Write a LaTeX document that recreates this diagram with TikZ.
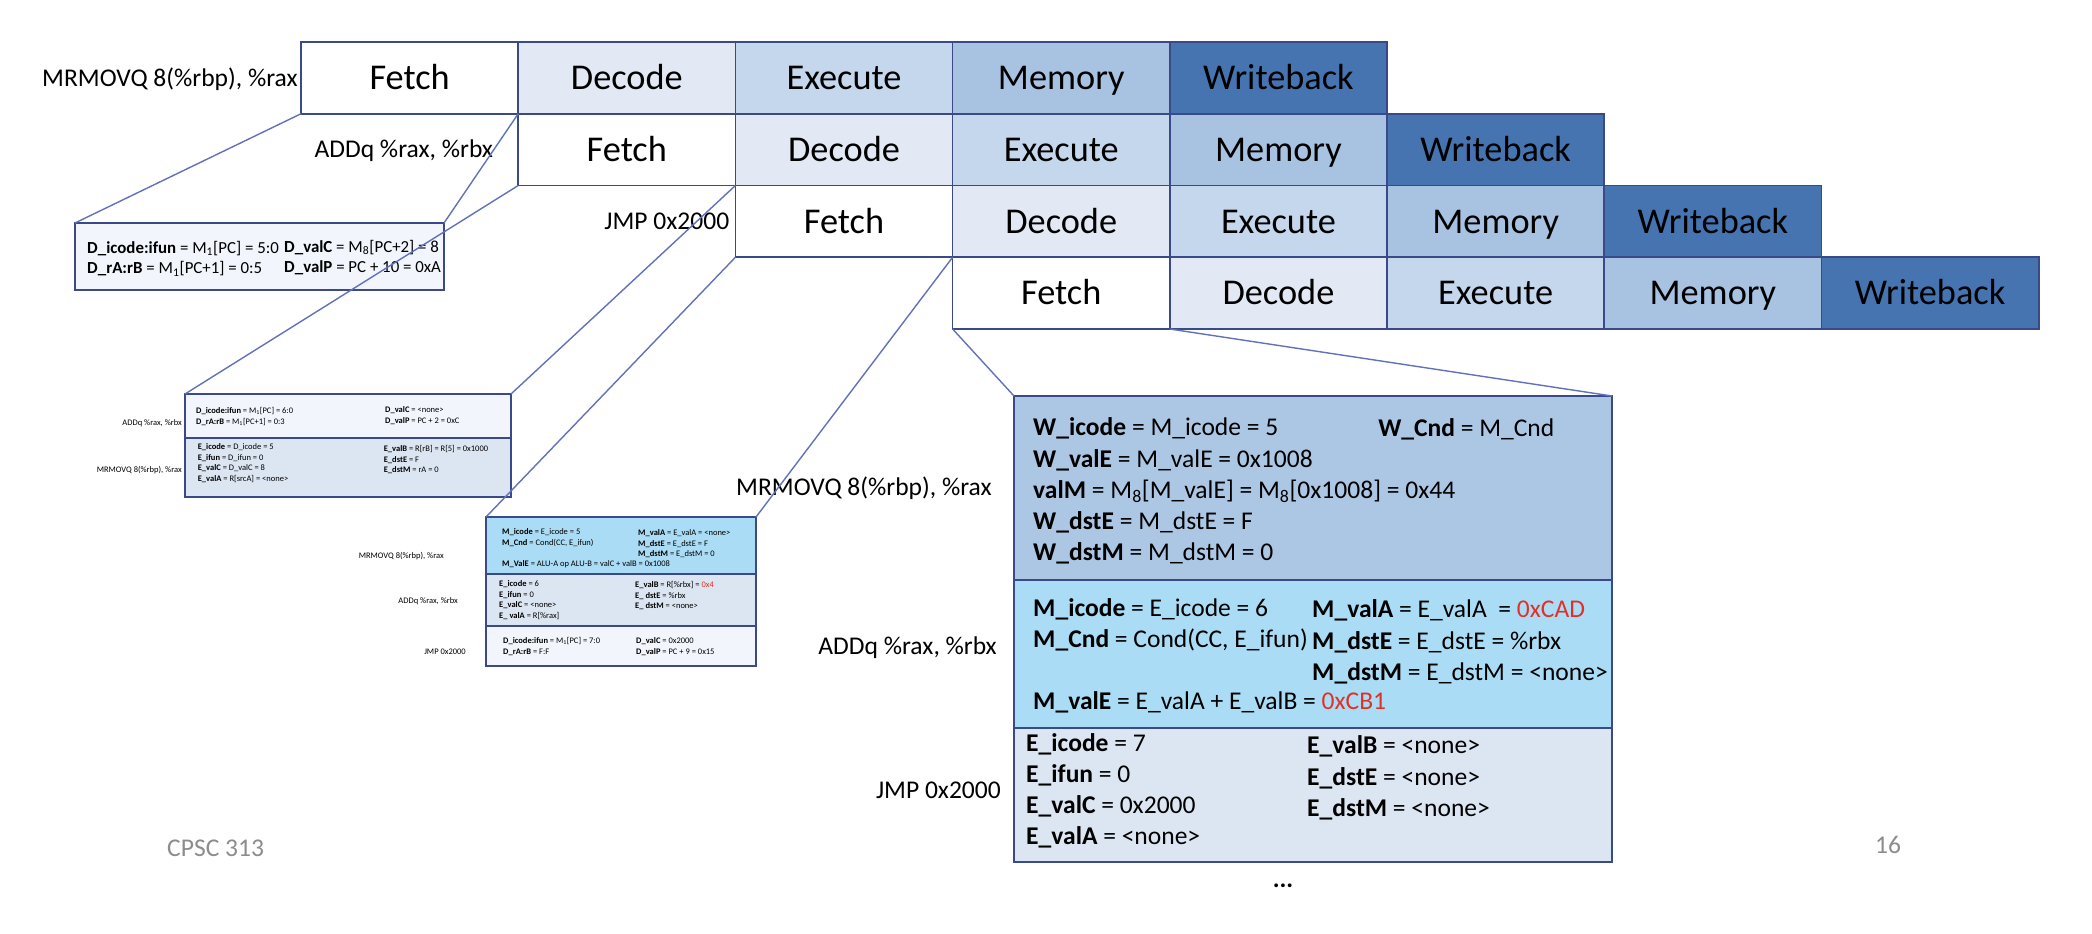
\documentclass[tikz,border=0pt]{standalone}
\usepackage{fontspec}
\setmainfont{Carlito}
\usepackage{xcolor}
\usetikzlibrary{positioning}

\definecolor{edge}{RGB}{58,74,136}
\definecolor{wire}{RGB}{98,114,186}
\definecolor{decode}{RGB}{226,233,245}
\definecolor{execute}{RGB}{197,215,236}
\definecolor{memory}{RGB}{168,195,225}
\definecolor{writeback}{RGB}{69,116,176}
\definecolor{wsec}{RGB}{172,199,228}
\definecolor{msec}{RGB}{170,221,245}
\definecolor{esec}{RGB}{220,230,242}
\definecolor{dsec}{RGB}{242,246,252}
\definecolor{hot}{RGB}{226,48,40}
\definecolor{slide}{RGB}{140,140,140}

\newcommand\stgfont{\fontsize{31}{37}\selectfont}
\newcommand\regfont{\fontsize{21.8}{26.6}\selectfont}
\newcommand\midfont{\fontsize{14.4}{17.9}\selectfont}
\newcommand\smlfont{\fontsize{7.25}{9.1}\selectfont}

\tikzset{
  stage/.style={draw=edge, line width=1.4pt, minimum width=6.516cm, minimum height=2.1525cm,
    inner sep=0pt, outer sep=0pt, font=\stgfont, text height=24.8pt, text depth=4.84pt},
  sect/.style={draw=edge, line width=2pt, inner sep=0pt, outer sep=0pt, anchor=north west},
  txt/.style={anchor=base west, align=left, inner sep=0pt},
  lab/.style={anchor=east, inner sep=0pt, font=\regfont, text height=17.44pt, text depth=3.4pt},
  tinylab/.style={anchor=east, inner sep=0pt, font=\smlfont, text height=5.8pt, text depth=1.13pt},
  zoomline/.style={draw=wire, line width=1.2pt},
}

\begin{document}
\begin{tikzpicture}[x=0.03cm, y=-0.03cm]
  \useasboundingbox (0,0) rectangle (2092,934);
  % pipeline diagram
  \node[stage, anchor=north west] (f1) at (301,42) {Fetch};
  \node[stage, fill=decode, right=0pt of f1] (d1) {Decode};
  \node[stage, fill=execute, right=0pt of d1] (e1) {Execute};
  \node[stage, fill=memory, right=0pt of e1] (m1) {Memory};
  \node[stage, fill=writeback, right=0pt of m1] (w1) {Writeback};
  \node[stage, below=0pt of d1] (f2) {Fetch};
  \node[stage, fill=decode, right=0pt of f2] (d2) {Decode};
  \node[stage, fill=execute, right=0pt of d2] (e2) {Execute};
  \node[stage, fill=memory, right=0pt of e2] (m2) {Memory};
  \node[stage, fill=writeback, right=0pt of m2] (w2) {Writeback};
  \node[stage, below=0pt of d2] (f3) {Fetch};
  \node[stage, fill=decode, right=0pt of f3] (d3) {Decode};
  \node[stage, fill=execute, right=0pt of d3] (e3) {Execute};
  \node[stage, fill=memory, right=0pt of e3] (m3) {Memory};
  \node[stage, fill=writeback, right=0pt of m3] (w3) {Writeback};
  \node[stage, below=0pt of d3] (f4) {Fetch};
  \node[stage, fill=decode, right=0pt of f4] (d4) {Decode};
  \node[stage, fill=execute, right=0pt of d4] (e4) {Execute};
  \node[stage, fill=memory, right=0pt of e4] (m4) {Memory};
  \node[stage, fill=writeback, right=0pt of m4] (w4) {Writeback};
  \node[lab, left=0.09cm of f1] (l1) {MRMOVQ 8(\%rbp), \%rax};
  \node[lab, left=0.75cm of f2] (l2) {ADDq \%rax, \%rbx};
  \node[lab, left=0.18cm of f3] (l3) {JMP 0x2000};

  % cycle 2
  \node[sect, fill=dsec, line width=2.4pt, minimum width=11.07cm, minimum height=2.01cm] (b1) at (75,223) {};
  \node[txt, font=\midfont] (b1a) at (87,274)
    {\textbf{D\_icode:ifun} = M\textsubscript{1}[PC] = 5:0\\ \textbf{D\_rA:rB} = M\textsubscript{1}[PC+1] = 0:5};
  \node[txt, font=\midfont] (b1b) at (284,273)
    {\textbf{D\_valC} = M\textsubscript{8}[PC+2] = 8\\ \textbf{D\_valP} = PC + 10 = 0xA};

  % cycle 3
  \node[sect, fill=dsec, minimum width=9.78cm, minimum height=1.32cm] (b2d) at (185,394) {};
  \node[sect, fill=esec, minimum width=9.78cm, minimum height=1.77cm, below=0pt of b2d] (b2e) {};
  \node[txt, font=\smlfont] (b2da) at (196,424.2)
    {\textbf{D\_icode:ifun} = M\textsubscript{1}[PC] = 6:0\\ \textbf{D\_rA:rB} = M\textsubscript{1}[PC+1] = 0:3};
  \node[txt, font=\smlfont] (b2db) at (385,423.2)
    {\textbf{D\_valC} = <none>\\ \textbf{D\_valP} = PC + 2 = 0xC};
  \node[txt, font=\smlfont] (b2ea) at (197.6,481.5)
    {\textbf{E\_icode} = D\_icode = 5\\ \textbf{E\_ifun} = D\_ifun = 0\\ \textbf{E\_valC} = D\_valC = 8\\ \textbf{E\_valA} = R[srcA] = <none>};
  \node[txt, font=\smlfont] (b2eb) at (383.6,472.8)
    {\textbf{E\_valB} = R[rB] = R[5] = 0x1000\\ \textbf{E\_dstE} = F\\ \textbf{E\_dstM} = rA = 0};
  \node[tinylab] (b2l1) at (182,423) {ADDq \%rax, \%rbx};
  \node[tinylab] (b2l2) at (182,470) {MRMOVQ 8(\%rbp), \%rax};

  % cycle 4
  \node[sect, fill=msec, minimum width=8.1cm, minimum height=1.71cm] (b3m) at (486,517) {};
  \node[sect, fill=esec, minimum width=8.1cm, minimum height=1.56cm, below=0pt of b3m] (b3e) {};
  \node[sect, fill=dsec, minimum width=8.1cm, minimum height=1.2cm, below=0pt of b3e] (b3d) {};
  \node[txt, font=\smlfont] (b3ma) at (502,545.2)
    {\textbf{M\_icode} = E\_icode = 5\\ \textbf{M\_Cnd} = Cond(CC, E\_ifun)};
  \node[txt, font=\smlfont] (b3mc) at (502,566.5)
    {\textbf{M\_ValE} = ALU-A op ALU-B = valC + valB = 0x1008};
  \node[txt, font=\smlfont] (b3mb) at (638,556.8)
    {\textbf{M\_valA} = E\_valA = <none>\\ \textbf{M\_dstE} = E\_dstE = F\\ \textbf{M\_dstM} = E\_dstM = 0};
  \node[txt, font=\smlfont] (b3ea) at (499,618.5)
    {\textbf{E\_icode} = 6\\ \textbf{E\_ifun} = 0\\ \textbf{E\_valC} = <none>\\ \textbf{E\_ valA} = R[\%rax]};
  \node[txt, font=\smlfont] (b3eb) at (635,608.8)
    {\textbf{E\_valB} = R[\%rbx] = \textcolor{hot}{0x4}\\ \textbf{E\_ dstE} = \%rbx\\ \textbf{E\_ dstM} = <none>};
  \node[txt, font=\smlfont] (b3da) at (503,654.2)
    {\textbf{D\_icode:ifun} = M\textsubscript{1}[PC] = 7:0\\ \textbf{D\_rA:rB} = F:F};
  \node[txt, font=\smlfont] (b3db) at (636,654.2)
    {\textbf{D\_valC} = 0x2000\\ \textbf{D\_valP} = PC + 9 = 0x15};
  \node[tinylab] (b3l1) at (444,556) {MRMOVQ 8(\%rbp), \%rax};
  \node[tinylab] (b3l2) at (458,601) {ADDq \%rax, \%rbx};
  \node[tinylab] (b3l3) at (466,652) {JMP 0x2000};

  % cycle 5
  \node[sect, fill=wsec, line width=2.4pt, minimum width=17.94cm, minimum height=5.52cm] (b4w) at (1014,396) {};
  \node[sect, fill=msec, line width=2.4pt, minimum width=17.94cm, minimum height=4.44cm, below=0pt of b4w] (b4m) {};
  \node[sect, fill=esec, line width=2.4pt, minimum width=17.94cm, minimum height=4.02cm, below=0pt of b4m] (b4e) {};
  \node[txt, font=\regfont] (b4wa) at (1033,560.6)
    {\textbf{W\_icode} = M\_icode = 5\\ \textbf{W\_valE} = M\_valE = 0x1008\\
     \textbf{valM} = M\textsubscript{8}[M\_valE] = M\textsubscript{8}[0x1008] = 0x44\\
     \textbf{W\_dstE} = M\_dstE = F\\ \textbf{W\_dstM} = M\_dstM = 0};
  \node[txt, font=\regfont] (b4wb) at (1378,436) {\textbf{W\_Cnd} = M\_Cnd};
  \node[txt, font=\regfont] (b4ma) at (1033,647.2)
    {\textbf{M\_icode} = E\_icode = 6\\ \textbf{M\_Cnd} = Cond(CC, E\_ifun)};
  \node[txt, font=\regfont] (b4mc) at (1033,709)
    {\textbf{M\_valE} = E\_valA + E\_valB = \textcolor{hot}{0xCB1}};
  \node[txt, font=\regfont] (b4mb) at (1312,680.3)
    {\textbf{M\_valA} = E\_valA~ = \textcolor{hot}{0xCAD}\\ \textbf{M\_dstE} = E\_dstE = \%rbx\\ \textbf{M\_dstM} = E\_dstM = <none>};
  \node[txt, font=\regfont] (b4ea) at (1026,844.5)
    {\textbf{E\_icode} = 7\\ \textbf{E\_ifun} = 0\\ \textbf{E\_valC} = 0x2000\\ \textbf{E\_valA} = <none>};
  \node[txt, font=\regfont] (b4eb) at (1307,816.3)
    {\textbf{E\_valB} = <none>\\ \textbf{E\_dstE} = <none>\\ \textbf{E\_dstM} = <none>};
  \node[lab] (b4l1) at (992,487) {MRMOVQ 8(\%rbp), \%rax};
  \node[lab] (b4l2) at (997,646) {ADDq \%rax, \%rbx};
  \node[lab] (b4l3) at (1001,790) {JMP 0x2000};
  \node[font=\regfont\bfseries] (more) at (1283,886) {...};

  % slide footer
  \node[lab, anchor=west, text=slide] (course) at (167,848) {CPSC 313};
  \node[lab, anchor=center, text=slide] (page) at (1888,845) {16};

  % zoom lines
  \draw[zoomline] (f1.south west) -- (b1.north west);
  \draw[zoomline] (f1.south east) -- (b1.north east);
  \draw[zoomline] (f2.south west) -- (b2d.north west);
  \draw[zoomline] (f2.south east) -- (b2d.north east);
  \draw[zoomline] (f3.south west) -- (b3m.north west);
  \draw[zoomline] (f3.south east) -- (b3m.north east);
  \draw[zoomline] (f4.south west) -- (b4w.north west);
  \draw[zoomline] (f4.south east) -- (b4w.north east);
\end{tikzpicture}
\end{document}
